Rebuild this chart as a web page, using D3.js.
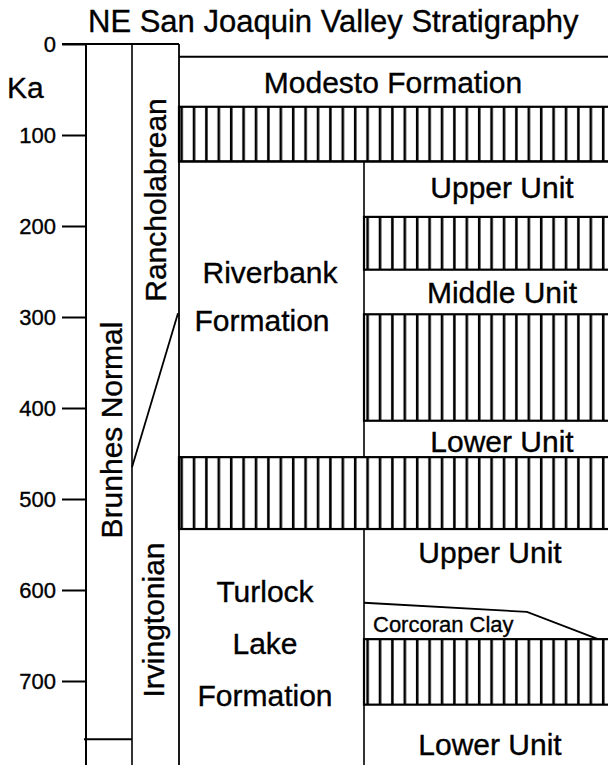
<!DOCTYPE html>
<html>
<head>
<meta charset="utf-8">
<script src="https://cdn.jsdelivr.net/npm/d3@7"></script>
<style>
  html, body { margin: 0; padding: 0; background: #fff; }
  svg { display: block; }
  text { font-family: "Liberation Sans", Arial, Helvetica, sans-serif; fill: #000; stroke: #000; stroke-width: 0.35px; }
</style>
</head>
<body>
<svg id="chart" width="608" height="765"></svg>
<script>
// ---------------- data (ages in Ka) ----------------
const title = "NE San Joaquin Valley Stratigraphy";
const axisLabel = "Ka";
const kaTicks = [0, 100, 200, 300, 400, 500, 600, 700];

// magnetic polarity column
const polarityName = "Brunhes Normal";
const brunhesBase = 764;

// land-mammal ages column
const mammalAges = ["Rancholabrean", "Irvingtonian"];
const mammalBoundary = [465, 296];          // age at left edge, age at right edge

// formation tops
const formationNames = ["Modesto Formation", "Riverbank Formation", "Turlock Lake Formation"];
const formationTops = [14, 129, 533];

// soil / hatched bands: [top, bottom, extent]
const hatchBands = [
  [69, 129, "full"],
  [190, 248, "units"],
  [297, 414, "units"],
  [454, 533, "full"],
  [654, 726, "units"]
];

// Corcoran Clay top surface (ages across the unit column)
const corcoranTop = [614, 624, 654];

// unit labels: [text, baseline age]
const riverbankUnits = [["Upper Unit", 169], ["Middle Unit", 285], ["Lower Unit", 448]];
const turlockUnits = [["Upper Unit", 570], ["Corcoran Clay", 646], ["Lower Unit", 781]];

// ---------------- layout ----------------
const W = 608, H = 765;
const xAxis = 86, xPolR = 132, xMamR = 179, xDiv = 364, xRight = 608;
const svg = d3.select("#chart");
const y = d3.scaleLinear().domain([0, 800]).range([44, 44 + 728]);

// hatch pattern
const defs = svg.append("defs");
const pat = defs.append("pattern")
  .attr("id", "hatch").attr("patternUnits", "userSpaceOnUse")
  .attr("width", 12.4).attr("height", 20).attr("x", 2);
pat.append("rect").attr("width", 12.4).attr("height", 20).attr("fill", "#fff");
pat.append("line").attr("x1", 6).attr("x2", 6).attr("y1", 0).attr("y2", 20)
  .attr("stroke", "#000").attr("stroke-width", 2.6);

// title
svg.append("text").attr("x", 88).attr("y", 32)
  .attr("font-size", 31).text(title);

// axis
const axis = d3.axisLeft(y).tickValues(kaTicks).tickSize(24).tickPadding(6)
  .tickFormat(d3.format("d"));
const gAxis = svg.append("g").attr("transform", `translate(${xAxis},0)`).call(axis);
gAxis.select(".domain").remove();
gAxis.selectAll(".tick line").attr("stroke", "#000").attr("stroke-width", 2);
gAxis.selectAll(".tick text").attr("font-size", 22)
  .attr("font-family", "Liberation Sans, Arial, sans-serif").attr("fill", "#000");

svg.append("text").attr("x", 7).attr("y", 98).attr("font-size", 30).text(axisLabel);

const line = (x1, y1, x2, y2, w = 1.6) =>
  svg.append("line").attr("x1", x1).attr("y1", y1).attr("x2", x2).attr("y2", y2)
    .attr("stroke", "#000").attr("stroke-width", w);

// hatched bands
hatchBands.forEach(([t, b, ext]) => {
  const x0 = ext === "full" ? xMamR : xDiv;
  svg.append("rect").attr("x", x0).attr("y", y(t))
    .attr("width", xRight + 20 - x0).attr("height", y(b) - y(t))
    .attr("fill", "url(#hatch)").attr("stroke", "#000").attr("stroke-width", 2.2);
});

// column frame lines
line(62, y(0), xMamR, y(0), 2.2);
line(xAxis, y(0), xAxis, H + 5, 2);
line(xPolR, y(0), xPolR, H + 5, 1.6);
line(xMamR, y(0), xMamR, H + 5, 1.8);
line(xAxis - 2, y(brunhesBase), xPolR, y(brunhesBase), 1.8);
line(xPolR, y(mammalBoundary[0]), xMamR - 1, y(mammalBoundary[1]), 1.8);

// formation tops
formationTops.forEach(t => line(xMamR, y(t), xRight + 20, y(t), 2));
// unit column divider in Riverbank and Turlock Lake
line(xDiv, y(formationTops[1]), xDiv, y(hatchBands[3][0]), 1.6);
line(xDiv, y(formationTops[2]), xDiv, H + 5, 1.6);

// Corcoran Clay top
const ccx = [xDiv, xDiv + (xRight - xDiv) * 0.668, xRight - 10];
svg.append("path")
  .attr("d", d3.line()(corcoranTop.map((a, i) => [ccx[i], y(a)])))
  .attr("fill", "none").attr("stroke", "#000").attr("stroke-width", 1.8);

// vertical column labels
const vtext = (txt, x, yc) =>
  svg.append("text").attr("transform", `translate(${x},${yc}) rotate(-90)`)
    .attr("text-anchor", "middle").attr("font-size", 30).text(txt);
vtext(polarityName, 122, 430);
vtext(mammalAges[0], 166, 200);
vtext(mammalAges[1], 164, 620);

// formation labels
const htext = (txt, x, yb, size = 30, anchor = "middle") =>
  svg.append("text").attr("x", x).attr("y", yb).attr("text-anchor", anchor)
    .attr("font-size", size).text(txt);
htext(formationNames[0], 393, y(54));
const rb = formationNames[1].split(" ");
htext(rb[0], 270, y(263));
htext(rb[1], 262, y(315));
const tl = formationNames[2].split(" ");
htext(tl[0], 265, y(613));
htext(tl[1], 265, y(670));
htext(tl[2], 265, y(727));

riverbankUnits.forEach(([t, a]) => htext(t, 502, y(a)));
turlockUnits.forEach(([t, a]) => {
  if (t === "Corcoran Clay") htext(t, 373, y(a), 22, "start");
  else htext(t, 490, y(a));
});
</script>
</body>
</html>
